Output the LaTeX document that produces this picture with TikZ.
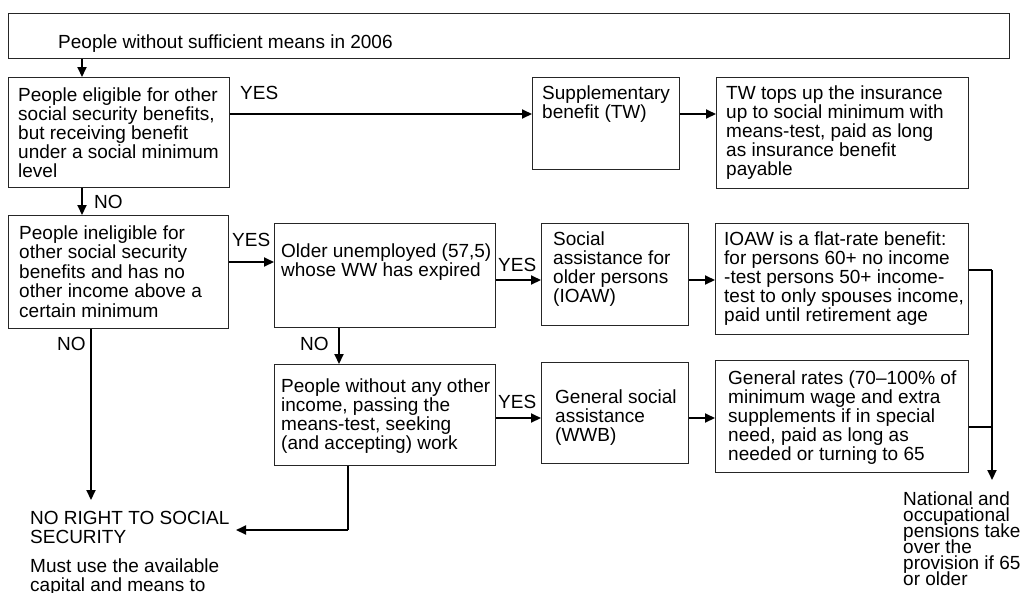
\documentclass[tikz,border=0pt]{standalone}
\usepackage{fontspec}
\setmainfont{Liberation Sans}
\usetikzlibrary{arrows.meta}
% multi-line text block whose baseline is the first line's baseline
\newcommand\mlines[1]{\parbox[t]{320pt}{\raggedright\lineskiplimit=-50pt\relax #1}}

\begin{document}
\begin{tikzpicture}[x=1pt,y=-1pt,
  box/.style={draw=black!85, line width=1.1pt, anchor=north west, inner sep=0pt},
  txt/.style={anchor=base west, inner sep=0pt, font=\fontsize{19}{19}\selectfont},
  conn/.style={line width=2pt, -{Triangle[length=10pt,width=9pt]}},
  plain/.style={line width=2pt},
  thinline/.style={line width=1.2pt}]
\useasboundingbox[fill=white] (0,0) rectangle (1022,592);

% boxes
\node[box, minimum width=1001pt, minimum height=45pt] (top) at (8,13) {};
\node[box, minimum width=221pt, minimum height=110pt] (elig) at (8,77) {};
\node[box, minimum width=147pt, minimum height=92pt] (supp) at (532,77) {};
\node[box, minimum width=252pt, minimum height=111pt] (tw) at (716,77) {};
\node[box, minimum width=220pt, minimum height=113pt] (inel) at (8,215) {};
\node[box, minimum width=221pt, minimum height=104pt] (older) at (274,223) {};
\node[box, minimum width=147pt, minimum height=102pt] (ioaw) at (541,223) {};
\node[box, minimum width=253pt, minimum height=111pt] (flat) at (715,223) {};
\node[box, minimum width=221pt, minimum height=101pt] (noinc) at (274,364) {};
\node[box, minimum width=147pt, minimum height=101pt] (wwb) at (541,362) {};
\node[box, minimum width=253pt, minimum height=112pt] (rates) at (715,360) {};

% box texts
\node[txt] (ttop) at (58,48) {People without sufficient means in 2006};
\node[txt] (telig) at (18,101) {\mlines{People eligible for other\\social security benefits,\\but receiving benefit\\under a social minimum\\level}};
\node[txt] (tsupp) at (542,99) {\mlines{Supplementary\\benefit (TW)}};
\node[txt] (ttw) at (726,99) {\mlines{TW tops up the insurance\\up to social minimum with\\means-test, paid as long\\as insurance benefit\\payable}};
\node[txt, font=\fontsize{19}{19.5}\selectfont] (tinel) at (19,239) {\mlines{People ineligible for\\other social security\\benefits and has no\\other income above a\\certain minimum}};
\node[txt] (tolder) at (281,257) {\mlines{Older unemployed (57,5)\\whose WW has expired}};
\node[txt] (tioaw) at (553,245) {\mlines{Social\\assistance for\\older persons\\(IOAW)}};
\node[txt] (tflat) at (724,245) {\mlines{IOAW is a flat-rate benefit:\\for persons 60+ no income\\-test persons 50+ income-\\test to only spouses income,\\paid until retirement age}};
\node[txt, font=\fontsize{19}{19.3}\selectfont] (tnoinc) at (281,392) {\mlines{People without any other\\income, passing the\\means-test, seeking\\(and accepting) work}};
\node[txt] (twwb) at (555,403) {\mlines{General social\\assistance\\(WWB)}};
\node[txt] (trates) at (728,384) {\mlines{General rates (70--100\% of\\minimum wage and extra\\supplements if in special\\need, paid as long as\\needed or turning to 65}};

% free texts
\node[txt] (noright) at (30,524) {\mlines{NO RIGHT TO SOCIAL\\SECURITY}};
\node[txt] (capital) at (30,572) {\mlines{Must use the available\\capital and means to}};
\node[txt, font=\fontsize{19}{16}\selectfont] (pens) at (903,505) {\mlines{National and\\occupational\\pensions take\\over the\\provision if 65\\or older}};

% branch labels
\node[txt] (yes1) at (240,99) {YES};
\node[txt] (no1) at (94,208) {NO};
\node[txt] (yes2) at (232,246) {YES};
\node[txt] (yes3) at (498,271) {YES};
\node[txt] (no2) at (300,350) {NO};
\node[txt] (no3) at (57,350) {NO};
\node[txt] (yes4) at (498,408) {YES};

% junction points and free ends
\coordinate (xa) at (82,0);
\coordinate (xb) at (91,0);
\coordinate (xc) at (339,0);
\coordinate (bend) at (91,500);
\coordinate (dturn) at (348,530);
\coordinate (nrend) at (236,530);
\coordinate (rj) at (992,270);
\coordinate (rend) at (992,480);

% connectors
\draw[conn] (top.south -| xa) -- (elig.north -| xa);
\draw[conn] (elig.east |- 0,114) -- (supp.west |- 0,114);
\draw[conn] (supp.east |- 0,114) -- (tw.west |- 0,114);
\draw[conn] (elig.south -| xa) -- (inel.north -| xa);
\draw[conn] (inel.east |- 0,262) -- (older.west |- 0,262);
\draw[conn] (older.east |- 0,280) -- (ioaw.west |- 0,280);
\draw[conn] (ioaw.east |- 0,280) -- (flat.west |- 0,280);
\draw[conn] (older.south -| xc) -- (noinc.north -| xc);
\draw[conn] (noinc.east |- 0,418) -- (wwb.west |- 0,418);
\draw[conn] (wwb.east |- 0,418) -- (rates.west |- 0,418);
\draw[conn] (inel.south -| xb) -- (bend);
\draw[thinline] (noinc.south -| dturn) -- (dturn);
\draw[conn] (dturn) -- (nrend);
\draw[thinline] (flat.east |- rj) -- (rj);
\draw[thinline] (rates.east |- 0,427) -- (rj |- 0,427);
\draw[conn] (rj) -- (rend);
\end{tikzpicture}
\end{document}
